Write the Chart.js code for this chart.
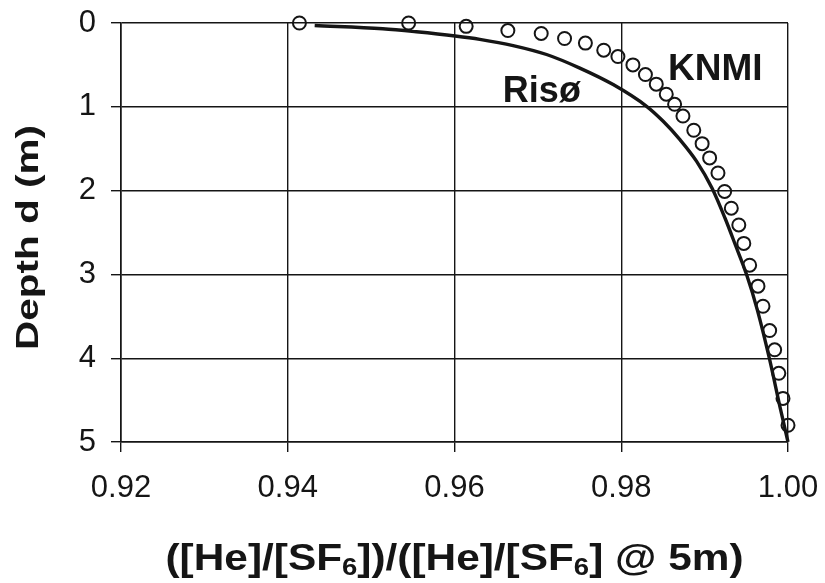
<!DOCTYPE html>
<html>
<head>
<meta charset="utf-8">
<script src="https://cdn.jsdelivr.net/npm/chart.js@4.4.1/dist/chart.umd.min.js"></script>
<style>
  html, body { margin: 0; padding: 0; background: #fff; }
  #wrap { width: 825px; height: 583px; }
</style>
</head>
<body>
<div id="wrap"><canvas id="c" width="825" height="583"></canvas></div>
<script>
// ---- data ----
const xTicks = [0.92, 0.94, 0.96, 0.98, 1.00];
const yTicks = [0, 1, 2, 3, 4, 5];

const risoRatio = [0.94323, 0.95139, 0.95543, 0.96007, 0.96303, 0.96703, 0.97104, 0.97503, 0.97903, 0.98304, 0.98503,
                   0.98704, 0.98904, 0.99088, 0.99244, 0.99376, 0.99504, 0.99632, 0.99776, 0.99912, 1.00000];
const risoDepth = [0.030, 0.069, 0.105, 0.155, 0.195, 0.269, 0.376, 0.538, 0.735, 0.994, 1.173,
                   1.392, 1.651, 1.969, 2.327, 2.667, 3.005, 3.423, 4.000, 4.618, 5.000];

const knmiRatio = [0.9414, 0.9545, 0.9614, 0.9664, 0.9704, 0.9732, 0.9757, 0.9779, 0.9796, 0.9814,
                   0.9829, 0.9842, 0.9854, 0.9864, 0.9874, 0.9887, 0.9897, 0.9906, 0.9916, 0.9924,
                   0.9932, 0.9941, 0.9947, 0.9954, 0.9964, 0.9970, 0.9978, 0.9984, 0.9989, 0.9994, 1.0000];
const knmiDepth = [0.00, 0.00, 0.04, 0.09, 0.125, 0.185, 0.24, 0.325, 0.40, 0.50,
                   0.615, 0.73, 0.85, 0.97, 1.11, 1.28, 1.44, 1.61, 1.79, 2.01,
                   2.21, 2.41, 2.63, 2.89, 3.14, 3.38, 3.67, 3.90, 4.18, 4.48, 4.80];

const seriesNames = ["Risø", "KNMI"];
const yTitle = "Depth d (m)";
const xTitleParts = [["([He]/[SF", false], ["6", true], ["])/([He]/[SF", false], ["6", true], ["] @ 5m)", false]];

const FONT = '"Liberation Sans", Arial, Helvetica, sans-serif';
const INK = '#151515';

const toPts = (xs, ys) => xs.map((v, i) => ({ x: v, y: ys[i] }));

const textPlugin = {
  id: 'texts',
  afterDraw(chart) {
    const { ctx, scales: { x, y } } = chart;
    ctx.save();
    ctx.fillStyle = INK;
    ctx.textBaseline = 'alphabetic';
    ctx.textAlign = 'left';

    // series labels inside plot
    ctx.font = 'bold 36px ' + FONT;
    ctx.fillText(seriesNames[0], x.getPixelForValue(0.9658), y.getPixelForValue(0.94));
    ctx.font = 'bold 37px ' + FONT;
    ctx.fillText(seriesNames[1], x.getPixelForValue(0.9856), y.getPixelForValue(0.675));

    // x-axis title with subscripts
    const mainF = 'bold 37px ' + FONT, subF = 'bold 24px ' + FONT;
    let total = 0;
    xTitleParts.forEach(([t, sub]) => { ctx.font = sub ? subF : mainF; total += ctx.measureText(t).width; });
    const targetW = 578;
    const sx = targetW / total;
    const cx = (x.left + x.right) / 2;
    ctx.save();
    ctx.translate(cx - targetW / 2, 570);
    ctx.scale(sx, 1);
    let px = 0;
    xTitleParts.forEach(([t, sub]) => {
      ctx.font = sub ? subF : mainF;
      ctx.fillText(t, px, sub ? 5 : 0);
      px += ctx.measureText(t).width;
    });
    ctx.restore();

    // y-axis title, rotated
    ctx.save();
    ctx.font = 'bold 32px ' + FONT;
    const w = ctx.measureText(yTitle).width;
    const targetH = 225;
    ctx.translate(38, 237.5);
    ctx.rotate(-Math.PI / 2);
    ctx.scale(targetH / w, 1);
    ctx.textAlign = 'center';
    ctx.fillText(yTitle, 0, 0);
    ctx.restore();

    ctx.restore();
  }
};

new Chart(document.getElementById('c'), {
  type: 'scatter',
  data: {
    datasets: [
      {
        label: seriesNames[0],
        data: toPts(risoRatio, risoDepth),
        showLine: true,
        borderColor: INK,
        borderWidth: 3.4,
        pointRadius: 0,
        cubicInterpolationMode: 'monotone',
        fill: false,
        clip: false,
        order: 1
      },
      {
        label: seriesNames[1],
        data: toPts(knmiRatio, knmiDepth),
        showLine: false,
        pointStyle: 'circle',
        pointRadius: 6.5,
        pointBorderWidth: 2,
        pointBorderColor: INK,
        pointBackgroundColor: 'rgba(0,0,0,0)',
        clip: false,
        order: 2
      }
    ]
  },
  options: {
    responsive: false,
    animation: false,
    events: [],
    layout: { padding: { left: 0, right: 37, top: 23, bottom: 0 } },
    plugins: { legend: { display: false }, tooltip: { enabled: false } },
    scales: {
      x: {
        type: 'linear',
        min: xTicks[0],
        max: xTicks[xTicks.length - 1],
        afterBuildTicks(scale) { scale.ticks = xTicks.map(v => ({ value: v })); },
        afterFit(scale) { scale.height = 141; scale.paddingLeft = 0; scale.paddingRight = 0; },
        ticks: {
          callback: v => Number(v).toFixed(2),
          font: { family: FONT, size: 31 },
          color: INK,
          padding: 18,
          maxRotation: 0,
          autoSkip: false
        },
        grid: { color: INK, lineWidth: 1.4, tickLength: 10, tickColor: INK, tickWidth: 1.4 },
        border: { display: true, color: INK, width: 1.6 },
        title: { display: false }
      },
      y: {
        type: 'linear',
        reverse: true,
        min: yTicks[0],
        max: yTicks[yTicks.length - 1],
        afterBuildTicks(scale) { scale.ticks = yTicks.map(v => ({ value: v })); },
        afterFit(scale) { scale.width = 121; scale.paddingTop = 0; scale.paddingBottom = 0; },
        ticks: {
          font: { family: FONT, size: 31 },
          color: INK,
          padding: 15,
          autoSkip: false
        },
        grid: { color: INK, lineWidth: 1.4, tickLength: 10, tickColor: INK, tickWidth: 1.4 },
        border: { display: true, color: INK, width: 1.6 },
        title: { display: false }
      }
    }
  },
  plugins: [textPlugin]
});
</script>
</body>
</html>
